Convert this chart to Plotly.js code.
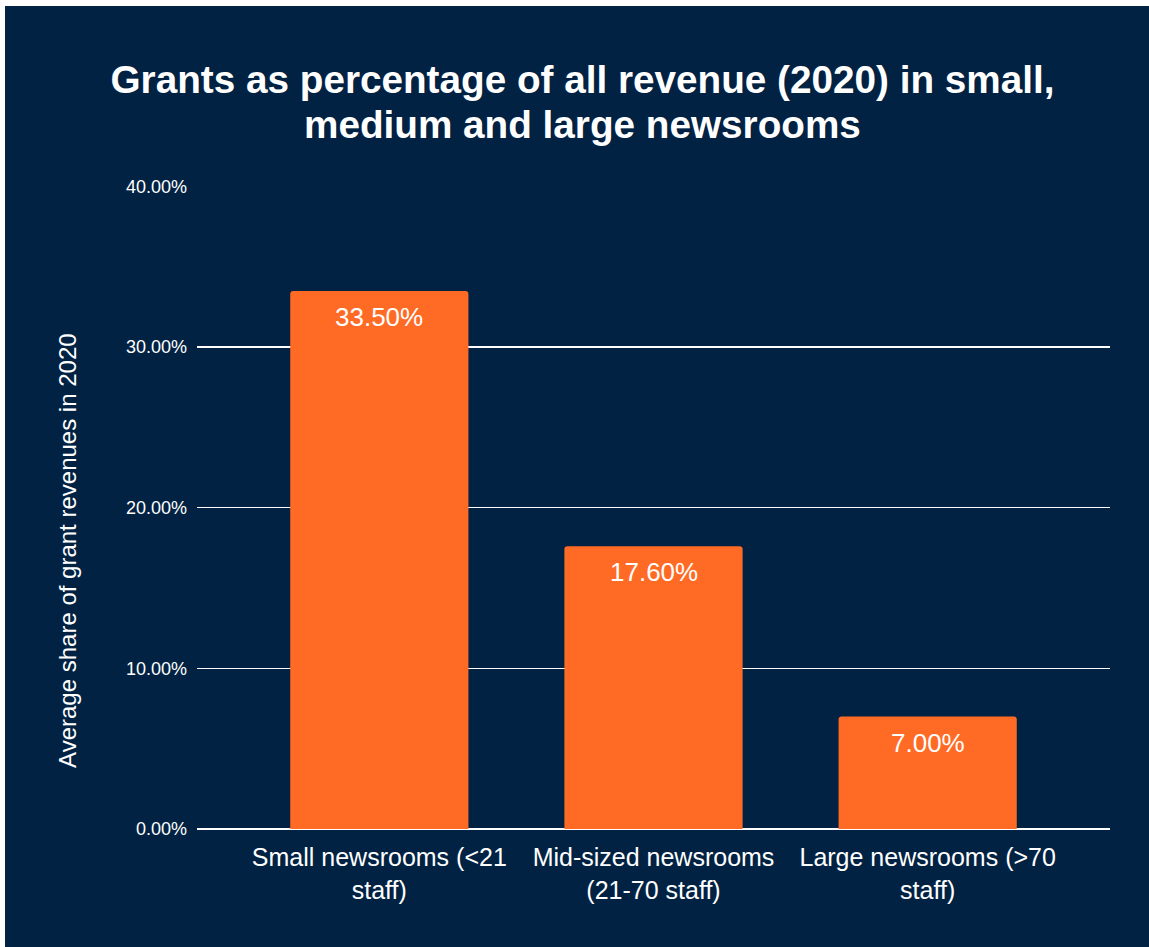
<!DOCTYPE html>
<html>
<head>
<meta charset="utf-8">
<script src="https://cdn.plot.ly/plotly-3.0.1.min.js"></script>
<style>
  html, body { margin: 0; padding: 0; background: #ffffff; }
  #chart { position: absolute; left: 5px; top: 6px; width: 1144px; height: 941px; }
</style>
</head>
<body>
<div id="chart"></div>
<script>
const categories = [
  "Small newsrooms (&lt;21<br>staff)",
  "Mid-sized newsrooms<br>(21-70 staff)",
  "Large newsrooms (&gt;70<br>staff)"
];
const shareValues = [0.335, 0.176, 0.07];
const valueLabels = ["33.50%", "17.60%", "7.00%"];
const yTickValues = [0, 0.1, 0.2, 0.3, 0.4];
const yTickLabels = ["0.00%", "10.00%", "20.00%", "30.00%", "40.00%"];

const titleLine1 = "Grants as percentage of all revenue (2020) in small,";
const titleLine2 = "medium and large newsrooms";
const yTitle = "Average share of grant revenues in 2020";

const FONT = "Liberation Sans, Arial, Helvetica, sans-serif";
const BG = "#012243";
const BAR = "#FF6A25";
const TITLE_FONT = { family: FONT, size: 38.7, color: "#ffffff", weight: "bold" };

const trace = {
  type: "bar",
  x: categories,
  y: shareValues,
  width: 0.65,
  marker: { color: BAR, cornerradius: 3, line: { width: 0 } },
  hoverinfo: "skip"
};

const labelAnnotations = categories.map((c, i) => ({
  x: c, y: shareValues[i], xref: "x", yref: "y",
  text: valueLabels[i], showarrow: false,
  xanchor: "center", yanchor: "top", yshift: -9,
  font: { family: FONT, size: 26, color: "#ffffff" }
}));

const layout = {
  paper_bgcolor: BG,
  plot_bgcolor: BG,
  margin: { l: 192, r: 39, t: 180, b: 118, pad: 0 },
  showlegend: false,
  font: { family: FONT, color: "#ffffff" },
  title: {
    text: titleLine1,
    font: TITLE_FONT,
    x: 577.5 / 1144, xref: "container", xanchor: "center",
    y: 1 - 73 / 941, yref: "container", yanchor: "middle"
  },
  xaxis: {
    type: "category",
    range: [-0.665, 2.665],
    showgrid: false,
    zeroline: false,
    showline: false,
    ticks: "",
    ticklabelstandoff: 11,
    tickfont: { family: FONT, size: 25, color: "#ffffff" },
    fixedrange: true
  },
  yaxis: {
    range: [0, 0.4003],
    tickvals: yTickValues,
    ticktext: yTickLabels,
    showgrid: true,
    gridcolor: "#ffffff",
    gridwidth: 1.5,
    zeroline: true,
    zerolinecolor: "#ffffff",
    zerolinewidth: 1.5,
    showline: false,
    ticks: "",
    ticklabelstandoff: 9,
    tickfont: { family: FONT, size: 18, color: "#ffffff" },
    fixedrange: true
  },
  annotations: labelAnnotations.concat([
    {
      text: titleLine2, showarrow: false,
      xref: "paper", yref: "paper", x: (577.5 - 192) / 913, y: 1 + 62 / 643,
      xanchor: "center", yanchor: "middle",
      font: TITLE_FONT
    },
    {
      text: yTitle, showarrow: false, textangle: -90,
      xref: "paper", yref: "paper", x: -0.1413, y: 0.434,
      xanchor: "center", yanchor: "middle",
      font: { family: FONT, size: 24, color: "#ffffff" }
    }
  ])
};

Plotly.newPlot("chart", [trace], layout, { displayModeBar: false, staticPlot: true });
</script>
</body>
</html>
